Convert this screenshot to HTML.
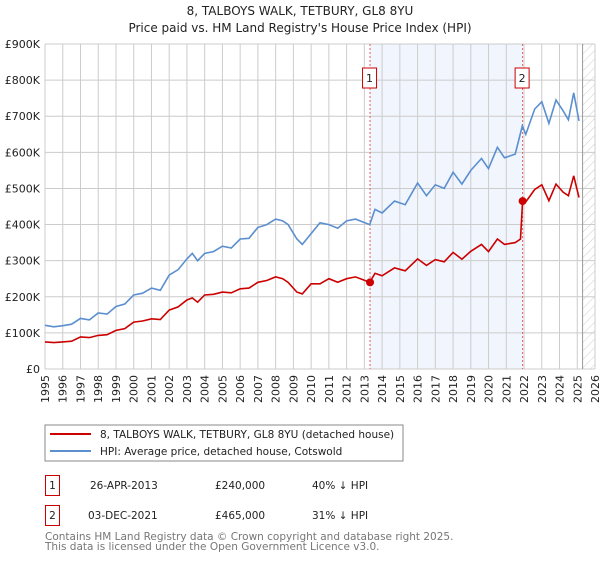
<!DOCTYPE html>
<html><head><meta charset="utf-8"><style>
body{margin:0;background:#fff;width:600px;height:560px;overflow:hidden;font-family:"DejaVu Sans","Liberation Sans",sans-serif;}
svg text{font-family:"DejaVu Sans","Liberation Sans",sans-serif;}
</style></head><body>
<svg id="chart" width="600" height="560">
<defs><pattern id="hatch" width="6" height="6" patternUnits="userSpaceOnUse" patternTransform="rotate(45)"><line x1="0" y1="0" x2="0" y2="6" stroke="#ccc" stroke-width="1"/></pattern></defs>
<text x="300" y="15" text-anchor="middle" font-size="12" fill="#222">8, TALBOYS WALK, TETBURY, GL8 8YU</text>
<text x="300" y="32" text-anchor="middle" font-size="12" fill="#222">Price paid vs. HM Land Registry's House Price Index (HPI)</text>
<g id="grid"></g><g id="marks"></g><g id="axes"></g>
<rect x="45" y="425" width="358" height="36" fill="#fff" stroke="#888"/>
<line x1="50" y1="434" x2="91" y2="434" stroke="#cc0000" stroke-width="2"/>
<text x="100" y="438" font-size="10.5" fill="#222">8, TALBOYS WALK, TETBURY, GL8 8YU (detached house)</text>
<line x1="50" y1="451" x2="91" y2="451" stroke="#5b8fd0" stroke-width="2"/>
<text x="100" y="455" font-size="10.5" fill="#222">HPI: Average price, detached house, Cotswold</text>
<g font-size="10.5" fill="#222">
<rect x="45.5" y="475.5" width="14" height="20" fill="#fff" stroke="#cc0000"/>
<text x="52.5" y="489" text-anchor="middle">1</text>
<text x="90" y="489">26-APR-2013</text><text x="215" y="489">£240,000</text><text x="312" y="489">40% ↓ HPI</text>
<rect x="45.5" y="505.5" width="14" height="20" fill="#fff" stroke="#cc0000"/>
<text x="52.5" y="519" text-anchor="middle">2</text>
<text x="88" y="519">03-DEC-2021</text><text x="215" y="519">£465,000</text><text x="312" y="519">31% ↓ HPI</text>
</g>
<text x="45" y="540" font-size="10.5" fill="#777">Contains HM Land Registry data © Crown copyright and database right 2025.</text>
<text x="45" y="550" font-size="10.5" fill="#777">This data is licensed under the Open Government Licence v3.0.</text>
</svg>
<script>
const hpiYears=[1995,1995.5,1996,1996.5,1997,1997.5,1998,1998.5,1999,1999.5,2000,2000.5,2001,2001.5,2002,2002.5,2003,2003.3,2003.6,2004,2004.5,2005,2005.5,2006,2006.5,2007,2007.5,2008,2008.4,2008.7,2009.2,2009.5,2010,2010.5,2011,2011.5,2012,2012.5,2013.3,2013.6,2014,2014.7,2015.3,2016,2016.5,2017,2017.5,2018,2018.5,2019,2019.6,2020,2020.5,2020.9,2021.5,2021.9,2022.1,2022.6,2023,2023.4,2023.8,2024.2,2024.5,2024.8,2025.1];
const hpiValues=[121,117,120,124,140,136,155,152,173,180,205,210,224,218,260,275,305,320,300,320,325,340,335,360,362,392,400,415,410,400,360,345,375,405,400,390,410,415,400,442,432,465,455,515,480,510,500,545,512,550,583,555,614,585,595,673,650,720,740,680,745,715,690,765,687];
const ppYears=[1995,1995.5,1996,1996.5,1997,1997.5,1998,1998.5,1999,1999.5,2000,2000.5,2001,2001.5,2002,2002.5,2003,2003.3,2003.6,2004,2004.5,2005,2005.5,2006,2006.5,2007,2007.5,2008,2008.4,2008.7,2009.2,2009.5,2010,2010.5,2011,2011.5,2012,2012.5,2013.3,2013.6,2014,2014.7,2015.3,2016,2016.5,2017,2017.5,2018,2018.5,2019,2019.6,2020,2020.5,2020.9,2021.5,2021.8,2021.92,2022.1,2022.6,2023,2023.4,2023.8,2024.2,2024.5,2024.8,2025.1];
const ppValues=[75,73,75,77,89,87,93,95,107,112,130,133,139,137,163,172,191,197,185,205,207,213,211,222,224,240,245,255,250,240,213,208,236,236,250,240,250,255,240,265,258,280,272,305,287,303,297,323,304,326,345,325,360,345,350,360,465,463,497,510,466,512,490,480,535,475];
const saleYears=[2013.32,2021.92];
const saleValues=[240,465];
const saleLabels=["1","2"];
const yTicks=[0,100,200,300,400,500,600,700,800,900];
const yTickLabels=["£0","£100K","£200K","£300K","£400K","£500K","£600K","£700K","£800K","£900K"];
const xTicks=[1995,1996,1997,1998,1999,2000,2001,2002,2003,2004,2005,2006,2007,2008,2009,2010,2011,2012,2013,2014,2015,2016,2017,2018,2019,2020,2021,2022,2023,2024,2025,2026];
const hatchStart=2025.3;

const L=45,R=595,T=44,B=369;
const xs=y=>L+(y-1995)/(2026-1995)*(R-L);
const ys=v=>B-v/900*(B-T);
const NS="http://www.w3.org/2000/svg";
function mk(parent,tag,attrs){const e=document.createElementNS(NS,tag);for(const k in attrs)e.setAttribute(k,attrs[k]);document.getElementById(parent).appendChild(e);return e;}
let sh=mk('grid','rect',{x:xs(saleYears[0]),y:T,width:xs(saleYears[1])-xs(saleYears[0]),height:B-T,fill:'#eef2fc',opacity:0.8});


let ht=mk('grid','rect',{x:xs(hatchStart),y:T,width:R-xs(hatchStart),height:B-T,fill:'url(#hatch)'});


xTicks.forEach(t=>{
  const g=mk('grid','line',{x1:xs(t),x2:xs(t),y1:T,y2:B,stroke:'#ccc','stroke-width':1});
  
  
  const tx=mk('axes','text',{x:0,y:0,'text-anchor':'end','font-size':11,fill:'#222',transform:'translate('+(xs(t)+4)+',375) rotate(-90)'});
  tx.textContent=t;
  
  
});
yTicks.forEach((t,i)=>{
  const g=mk('grid','line',{x1:L,x2:R,y1:ys(t),y2:ys(t),stroke:'#ccc','stroke-width':1});
  
  
  const tx=mk('axes','text',{x:40,y:ys(t)+4,'text-anchor':'end','font-size':11,fill:'#222'});
  tx.textContent=yTickLabels[i];
  
  
});
let vl=mk('grid','line',{x1:xs(hatchStart),x2:xs(hatchStart),y1:T,y2:B,stroke:'#999','stroke-width':1});


saleYears.forEach((y,i)=>{
  const l=mk('marks','line',{x1:xs(y),x2:xs(y),y1:T,y2:B,stroke:'#e06060','stroke-width':1,'stroke-dasharray':'2,2'});
  
  
});
const pts=(xa,va)=>xa.map((y,i)=>xs(y).toFixed(1)+','+ys(va[i]).toFixed(1)).join(' ');
let hl=mk('marks','polyline',{points:pts(hpiYears,hpiValues),fill:'none',stroke:'#5b8fd0','stroke-width':1.6});


let pl=mk('marks','polyline',{points:pts(ppYears,ppValues),fill:'none',stroke:'#cc0000','stroke-width':1.6});


saleYears.forEach((y,i)=>{
  const c=mk('marks','circle',{cx:xs(y),cy:ys(saleValues[i]),r:4,fill:'#cc0000'});
  
  
  const b=mk('marks','rect',{x:xs(y)-7.5,y:68,width:14,height:20,fill:'#fff',stroke:'#cc0000'});
  
  
  const t=mk('marks','text',{x:xs(y)-0.5,y:82,'text-anchor':'middle','font-size':11,fill:'#222'});
  t.textContent=saleLabels[i];
  
  
});
</script>
</body></html>
